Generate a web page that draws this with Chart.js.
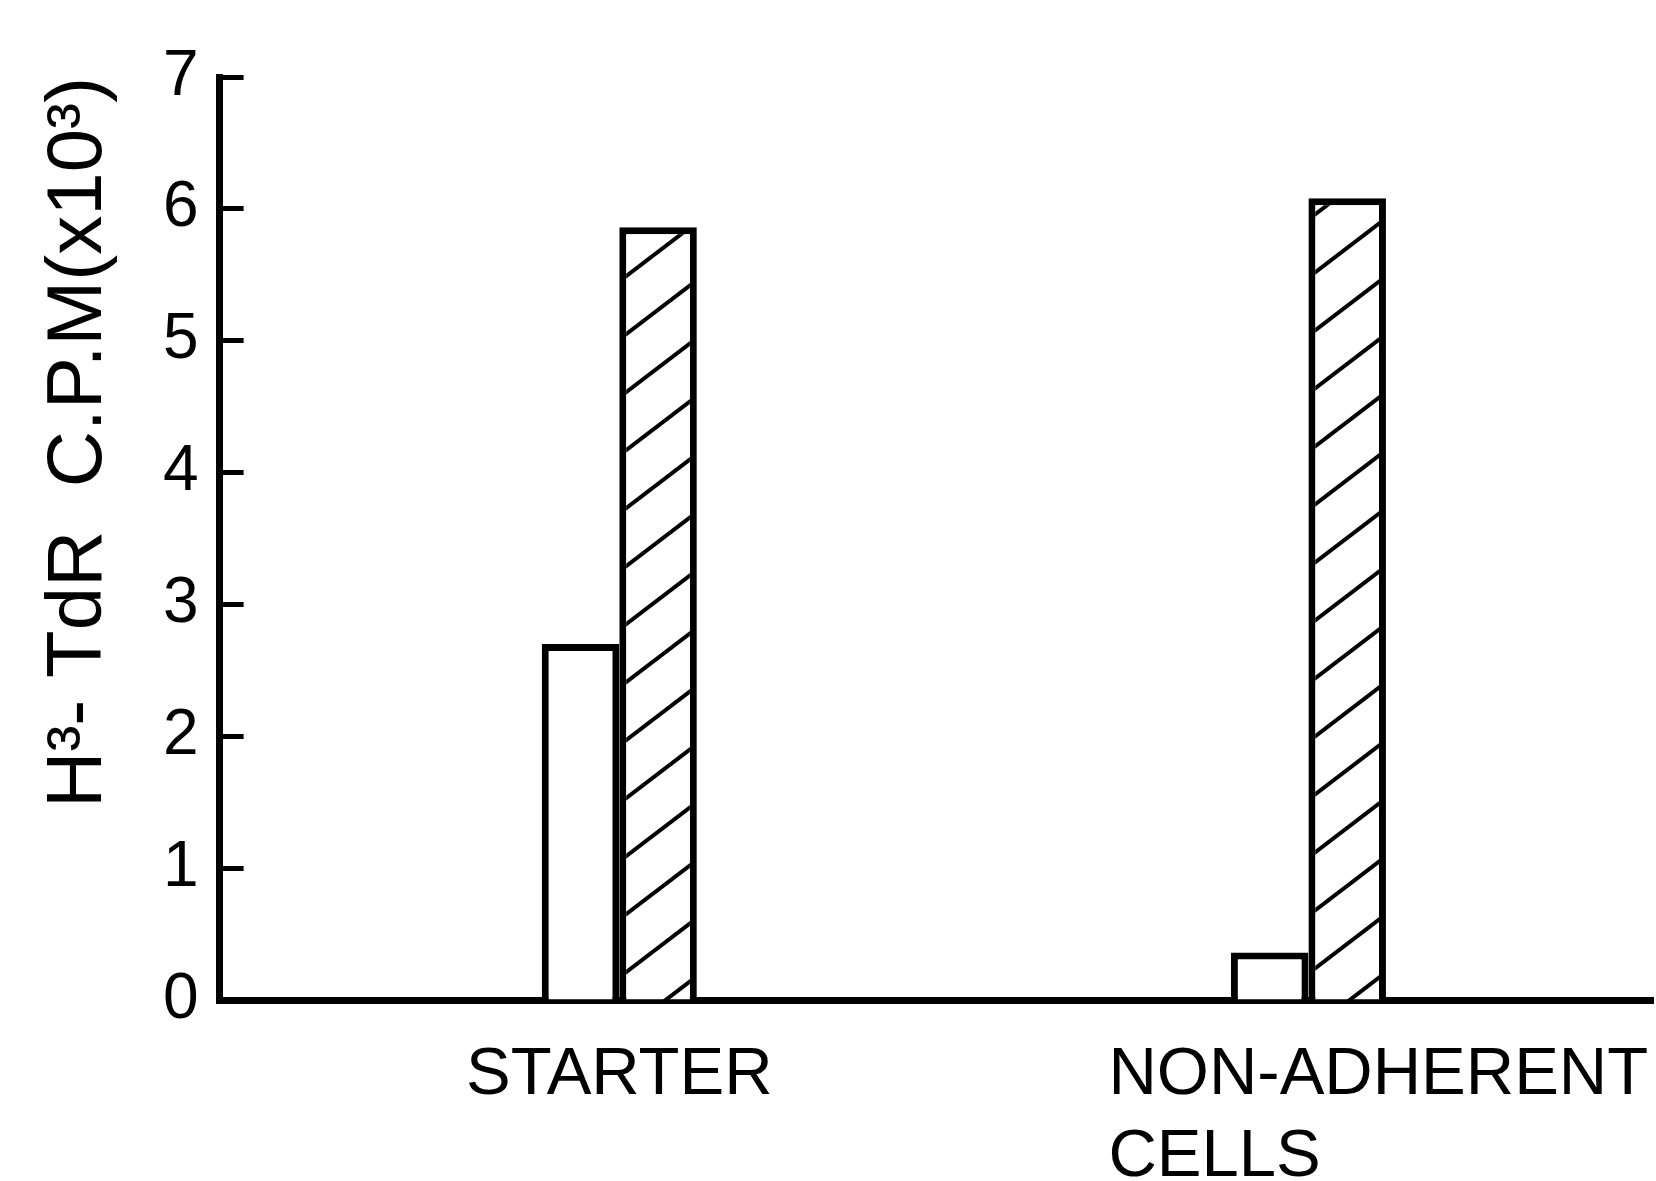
<!DOCTYPE html>
<html>
<head>
<meta charset="utf-8">
<script src="https://cdn.jsdelivr.net/npm/chart.js@4.4.1/dist/chart.umd.min.js"></script>
<style>
  html, body { margin: 0; padding: 0; background: #fff; }
  #wrap { width: 1656px; height: 1181px; }
</style>
</head>
<body>
<div id="wrap"><canvas id="cpmChart"></canvas></div>
<script>
// Data (x10^3 CPM)
const categories = ['STARTER', 'NON-ADHERENT CELLS'];
const xLabelLines = [['STARTER'], ['NON-ADHERENT', 'CELLS']];
const openValues = [2.7, 0.36];
const hatchedValues = [5.86, 6.08];
const yTickValues = [0, 1, 2, 3, 4, 5, 6, 7];

// Diagonal hatch pattern for the second series
function makeHatch() {
    const w = 76, h = 58;
    const c = document.createElement('canvas');
    c.width = w; c.height = h;
    const g = c.getContext('2d');
    g.fillStyle = '#fff';
    g.fillRect(0, 0, w, h);
    g.strokeStyle = '#000';
    g.lineWidth = 4;
    [0, -h, h].forEach(dy => {
        g.beginPath();
        g.moveTo(-w, 2 * h + dy);
        g.lineTo(2 * w, -h + dy);
        g.stroke();
    });
    return g.createPattern(c, 'repeat');
}

// Category labels under the baseline (second one left-aligned like the original)
const xLabelPlugin = {
    id: 'xLabels',
    afterDraw(chart) {
        const ctx = chart.ctx;
        const xs = chart.scales.x;
        const top = chart.chartArea.bottom + 42;
        ctx.save();
        ctx.font = '67px "Liberation Sans", Arial, sans-serif';
        ctx.fillStyle = '#000';
        ctx.textBaseline = 'top';
        xLabelLines.forEach((lines, i) => {
            const px = xs.getPixelForTick(i);
            lines.forEach((txt, j) => {
                if (i === 0) {
                    ctx.textAlign = 'center';
                    ctx.fillText(txt, px, top + j * 82);
                } else {
                    ctx.textAlign = 'left';
                    ctx.fillText(txt, px - 200, top + j * 82);
                }
            });
        });
        ctx.restore();
    }
};

const cpmData = {
    labels: categories,
    datasets: [{
        label: 'open',
        data: openValues,
        backgroundColor: '#fff',
        borderColor: '#000',
        borderWidth: 7
    }, {
        label: 'hatched',
        data: hatchedValues,
        backgroundColor: makeHatch(),
        borderColor: '#000',
        borderWidth: 7
    }]
};

const cpmConfig = {
    type: 'bar',
    data: cpmData,
    options: {
        responsive: true,
        maintainAspectRatio: false,
        animation: false,
        layout: { padding: { left: 40, right: 3, top: 42, bottom: 173 } },
        categoryPercentage: 0.225,
        barPercentage: 1,
        plugins: {
            legend: { display: false },
            tooltip: { enabled: false }
        },
        scales: {
            x: {
                ticks: { display: false },
                grid: { display: false },
                border: { display: true, color: '#000', width: 7 },
                // shift the two groups to where they sit in the figure
                afterBuildTicks(scale) {
                    scale._startValue = -0.58;
                    scale._valueRange = 2.08;
                }
            },
            y: {
                min: 0,
                max: 7,
                afterBuildTicks(scale) {
                    scale.ticks = yTickValues.map(v => ({ value: v }));
                },
                ticks: {
                    color: '#000',
                    padding: 45,
                    font: { family: '"Liberation Sans", Arial, sans-serif', size: 64, lineHeight: 1 }
                },
                grid: {
                    drawOnChartArea: false,
                    drawTicks: true,
                    tickLength: -24,
                    tickWidth: 5,
                    color: '#000'
                },
                border: { display: true, color: '#000', width: 7 },
                title: {
                    display: true,
                    text: 'H³- TdR  C.P.M(x10³)',
                    color: '#000',
                    align: 'end',
                    padding: { top: 0, bottom: 0 },
                    font: { family: '"Liberation Sans", Arial, sans-serif', size: 78, lineHeight: 1 }
                }
            }
        }
    },
    plugins: [xLabelPlugin]
};

const cpmChart = new Chart(
    document.getElementById('cpmChart'),
    cpmConfig
);
</script>
</body>
</html>
